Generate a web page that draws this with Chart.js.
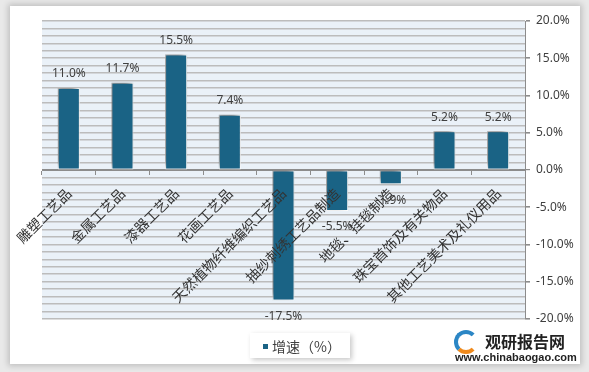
<!DOCTYPE html>
<html>
<head>
<meta charset="utf-8">
<script src="https://cdn.jsdelivr.net/npm/chart.js@4.4.1/dist/chart.umd.min.js"></script>
<style>
  html, body { margin: 0; padding: 0; background: #fff; }
  #wrap { position: relative; width: 589px; height: 372px; overflow: hidden; background: #e9e9e9; }
  #card { position: absolute; left: 10px; top: 6px; width: 570px; height: 358px; background: #fff;
          box-shadow: 0 0 6px 2px rgba(0,0,0,0.18); }
  #c { position: absolute; left: 0; top: 0; }
  #legend { position: absolute; left: 250px; top: 333px; width: 100px; height: 25px; background: #fff;
            box-shadow: 2px 2px 5px rgba(0,0,0,0.22); font: 14px "Noto Sans CJK SC", sans-serif; color: #404040; }
  #legend .sw { position: absolute; left: 13px; top: 11px; width: 5px; height: 5px; background: #1a6385; }
  #legend .tx { position: absolute; left: 22px; top: 3px; white-space: nowrap; }
  #mark { position: absolute; left: 453px; top: 329px; width: 128px; height: 36px; }
  #mark .logo { position: absolute; left: 1px; top: 1px; width: 16px; height: 16px; border-radius: 50%;
                border: 4px solid #2b86c5; border-right-color: transparent; border-bottom-color: #f08a1c; }
  #mark .cn { position: absolute; left: 32px; top: 0px; font: bold 16px "Noto Sans CJK SC", sans-serif; color: #222; }
  #mark .url { position: absolute; left: 2px; top: 22px; font: bold 11px "Liberation Sans", Arial, sans-serif; color: #222; }
</style>
</head>
<body>
<div id="wrap">
  <div id="card"></div>
  <canvas id="c" width="589" height="372"></canvas>
  <div id="legend"><span class="sw"></span><span class="tx">增速（%）</span></div>
  <div id="mark"><div class="logo"></div><div class="cn">观研报告网</div><div class="url">www.chinabaogao.com</div></div>
</div>
<script>
/* ---------- 데이터 ---------- */
const categories = ['雕塑工艺品', '金属工艺品', '漆器工艺品', '花画工艺品', '天然植物纤维编织工艺品',
  '抽纱刺绣工艺品制造', '地毯、挂毯制造', '珠宝首饰及有关物品', '其他工艺美术及礼仪用品'];
const growth = [11.0, 11.7, 15.5, 7.4, -17.5, -5.5, -1.9, 5.2, 5.2];
const seriesName = '增速（%）';
const yMin = -20, yMax = 20;

const barColor = '#1a6385';

/* ---------- 플롯 배경 ---------- */
const plotBg = {
  id: 'plotBg',
  beforeDraw(chart) {
    const { ctx, chartArea: a } = chart;
    ctx.save();
    ctx.fillStyle = '#eaf1f8';
    ctx.fillRect(a.left, a.top, a.right - a.left, a.bottom - a.top);
    ctx.restore();
  }
};

/* ---------- 막대 그림자 ---------- */
const barShadow = {
  id: 'barShadow',
  beforeDatasetsDraw(chart) {
    const ctx = chart.ctx;
    ctx.save();
    ctx.shadowColor = 'rgba(0,0,0,0.5)';
    ctx.shadowBlur = 6;
    ctx.shadowOffsetX = -3;
    ctx.shadowOffsetY = -3;
  },
  afterDatasetsDraw(chart) {
    chart.ctx.restore();
  }
};

/* ---------- 값 라벨 ---------- */
const valueLabels = {
  id: 'valueLabels',
  afterDatasetsDraw(chart) {
    const ctx = chart.ctx;
    const meta = chart.getDatasetMeta(0);
    ctx.save();
    ctx.font = '12px "Noto Sans", sans-serif';
    ctx.fillStyle = '#404040';
    ctx.textAlign = 'center';
    meta.data.forEach((bar, i) => {
      const v = growth[i];
      const txt = v.toFixed(1) + '%';
      if (v >= 0) {
        ctx.textBaseline = 'bottom';
        ctx.fillText(txt, bar.x, bar.y - 8);
      } else {
        ctx.textBaseline = 'top';
        ctx.fillText(txt, bar.x, bar.y + 10);
      }
    });
    ctx.restore();
  }
};

new Chart(document.getElementById('c'), {
  type: 'bar',
  data: {
    labels: categories,
    datasets: [{
      label: seriesName,
      data: growth,
      backgroundColor: barColor,
      borderColor: '#ffffff',
      borderWidth: 1,
      borderSkipped: false,
      barPercentage: 0.5,
      categoryPercentage: 0.82
    }]
  },
  options: {
    responsive: false,
    animation: false,
    layout: { padding: { left: 42, right: 12, top: 21, bottom: 53 } },
    plugins: { legend: { display: false }, tooltip: { enabled: false } },
    scales: {
      x: {
        position: { y: 0 },
        afterFit: (s) => { s.height = 0; },
        grid: { offset: true, drawOnChartArea: false, drawTicks: true, tickLength: 4, color: '#8c8c8c' },
        border: { display: true, color: '#8c8c8c', width: 1 },
        ticks: {
          z: 1,
          minRotation: 45, maxRotation: 45, autoSkip: false, padding: 11,
          color: '#333333', font: { family: '"Noto Sans CJK SC", sans-serif', size: 14 }
        }
      },
      y: {
        position: 'right',
        min: yMin, max: yMax,
        afterFit: (s) => { s.width = 52; },
        grid: {
          color: (c) => c.tick && c.tick.value === 0 ? '#8c8c8c' : '#bcbcbc',
          lineWidth: (c) => c.tick && c.tick.value === 0 ? 1.2 : 1.6,
          tickColor: (c) => c.tick && c.tick.value % 5 === 0 ? '#8c8c8c' : 'rgba(0,0,0,0)',
          tickLength: 5
        },
        border: { display: true, color: '#8c8c8c', width: 1 },
        ticks: {
          stepSize: 1, autoSkip: false, padding: 6,
          color: '#404040', font: { family: '"Noto Sans", sans-serif', size: 12 },
          callback: (v) => v % 5 === 0 ? v.toFixed(1) + '%' : ''
        }
      }
    }
  },
  plugins: [plotBg, barShadow, valueLabels]
});
</script>
</body>
</html>
